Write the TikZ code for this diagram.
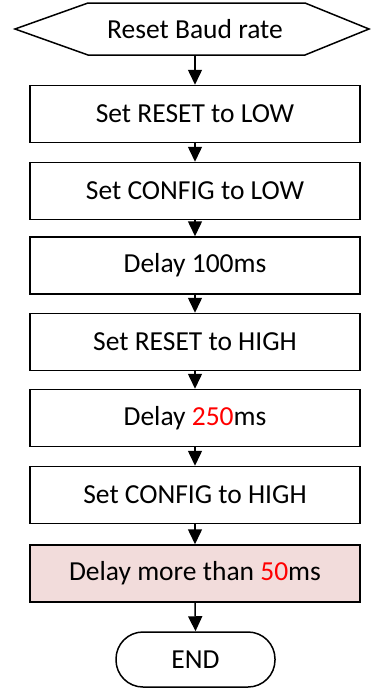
\documentclass[tikz,border=0pt]{standalone}
\usepackage{fontspec}
\setmainfont{Carlito}
\usetikzlibrary{arrows.meta}
\definecolor{pinkfill}{HTML}{F2DCDB}
\definecolor{redtxt}{HTML}{FF0000}
\begin{document}
\begin{tikzpicture}[x=1pt,y=-1pt,
  stepbox/.style={draw=black,line width=1.5pt,fill=white,minimum width=330pt,minimum height=57pt,inner sep=0pt,font=\fontsize{27.5}{33}\selectfont},
  flow/.style={line width=1.5pt,-{Triangle[width=14pt,length=15pt]}},
  txt/.style={font=\fontsize{27.5}{33}\selectfont}]
\useasboundingbox (0,0) rectangle (371,688);
\draw[line width=1.5pt,fill=white] (15,29) -- (88,3) -- (305,3) -- (369,29) -- (305,55) -- (88,55) -- cycle;
\node[txt,minimum height=52pt,minimum width=200pt,inner sep=0pt] (hex) at (195,29) {Reset Baud rate};
\node[stepbox] (b1) at (195,114) {Set RESET to LOW};
\node[stepbox] (b2) at (195,191) {Set CONFIG to LOW};
\node[stepbox] (b3) at (195,265.5) {Delay 100ms};
\node[stepbox] (b4) at (195,342) {Set RESET to HIGH};
\node[stepbox] (b5) at (195,418) {Delay \textcolor{redtxt}{250}ms};
\node[stepbox] (b6) at (195,495) {Set CONFIG to HIGH};
\node[stepbox,fill=pinkfill] (b7) at (195,573.5) {Delay more than \textcolor{redtxt}{50}ms};
\node[draw=black,line width=1.5pt,rounded corners=27pt,minimum width=159pt,minimum height=55pt,inner sep=0pt,txt] (e) at (195.5,659.5) {END};
\draw[flow] (hex.south) -- (b1.north);
\draw[flow] (b1) -- (b2);
\draw[flow] (b2) -- (b3);
\draw[flow] (b3) -- (b4);
\draw[flow] (b4) -- (b5);
\draw[flow] (b5) -- (b6);
\draw[flow] (b6) -- (b7);
\draw[flow] (b7.south) -- (e.north);
\end{tikzpicture}
\end{document}
